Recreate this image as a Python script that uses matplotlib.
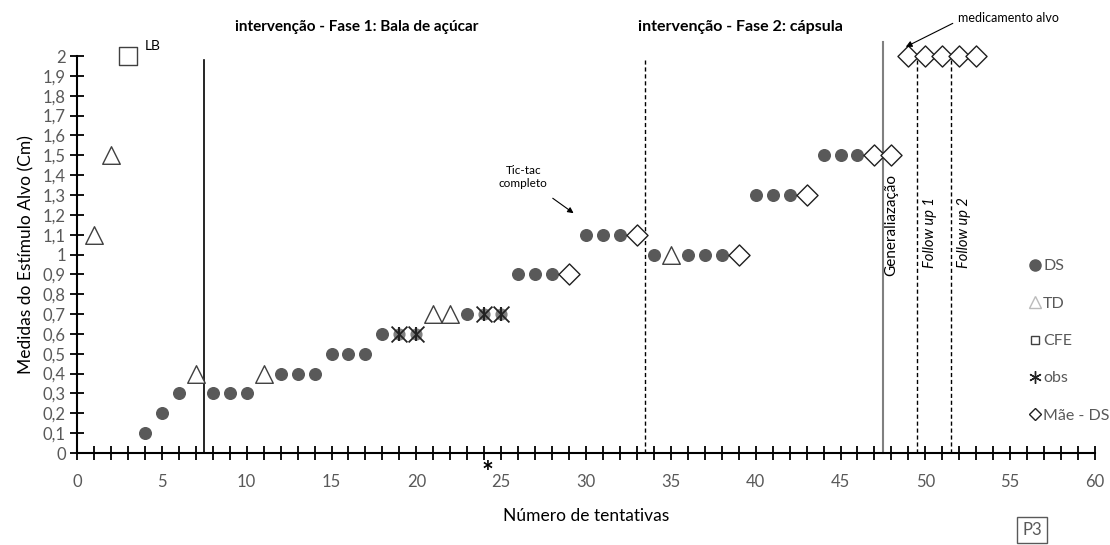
import numpy as np
import matplotlib.pyplot as plt
from matplotlib.ticker import MultipleLocator, FuncFormatter
from matplotlib.lines import Line2D

plt.rcParams['font.family'] = ['Lato', 'DejaVu Sans']

# dados
ds_x = [4, 5, 6, 8, 9, 10, 12, 13, 14, 15, 16, 17, 18, 23, 26, 27, 28,
        30, 31, 32, 34, 36, 37, 38, 40, 41, 42, 44, 45, 46]
ds_y = [0.1, 0.2, 0.3, 0.3, 0.3, 0.3, 0.4, 0.4, 0.4, 0.5, 0.5, 0.5, 0.6, 0.7,
        0.9, 0.9, 0.9, 1.1, 1.1, 1.1, 1.0, 1.0, 1.0, 1.0, 1.3, 1.3, 1.3,
        1.5, 1.5, 1.5]
td_x = [1, 2, 7, 11, 21, 22, 35]
td_y = [1.1, 1.5, 0.4, 0.4, 0.7, 0.7, 1.0]
cfe_x = [3]
cfe_y = [2.0]
obs_x = [19, 20, 24, 25]
obs_y = [0.6, 0.6, 0.7, 0.7]
mae_x = [29, 33, 39, 43, 47, 48, 49, 50, 51, 52, 53]
mae_y = [0.9, 1.1, 1.0, 1.3, 1.5, 1.5, 2.0, 2.0, 2.0, 2.0, 2.0]

fig = plt.figure(figsize=(11.1, 5.45), dpi=100)
ax = fig.add_axes([0.0694, 0.1688, 0.9171, 0.7284])

grey = '#595959'
ax.scatter(ds_x, ds_y, s=70, color=grey, zorder=3, clip_on=False)
ax.scatter(td_x, td_y, s=160, marker='^', facecolor='white', edgecolor='#404040',
           linewidth=1.0, zorder=3, clip_on=False)
ax.scatter(cfe_x, cfe_y, s=160, marker='s', facecolor='white', edgecolor='#404040',
           linewidth=1.0, zorder=3, clip_on=False)
ax.scatter(obs_x, obs_y, s=60, color='#7f7f7f', zorder=3)
ax.scatter(obs_x, obs_y, s=130, marker='x', color='#222222', linewidth=1.3, zorder=4)
ax.scatter(obs_x, obs_y, s=100, marker='|', color='#222222', linewidth=1.5, zorder=4)
ax.scatter(mae_x, mae_y, s=115, marker='D', facecolor='white', edgecolor='#202020',
           linewidth=1.0, zorder=3, clip_on=False)

# linhas de fase
ax.plot([7.5, 7.5], [0, 1.98], color='black', lw=1.2, clip_on=False)
ax.plot([33.5, 33.5], [0, 1.98], color='black', lw=1.0, ls=(0, (3, 2)), clip_on=False)
ax.plot([47.5, 47.5], [0, 2.07], color='#808080', lw=1.5, clip_on=False)
ax.plot([49.5, 49.5], [0, 1.98], color='black', lw=1.0, ls=(0, (3, 2)), clip_on=False)
ax.plot([51.5, 51.5], [0, 1.98], color='black', lw=1.0, ls=(0, (3, 2)), clip_on=False)

ax.set_xlim(0, 60)
ax.set_ylim(0, 2)
ax.xaxis.set_major_locator(MultipleLocator(5))
ax.xaxis.set_minor_locator(MultipleLocator(1))
ax.yaxis.set_major_locator(MultipleLocator(0.1))
ax.yaxis.set_major_formatter(FuncFormatter(lambda v, p: ('%g' % round(v, 1)).replace('.', ',')))
ax.tick_params(axis='both', which='both', direction='inout', length=10, width=1.3,
               colors='black', labelcolor=grey, labelsize=12)
ax.tick_params(axis='x', pad=10)
ax.tick_params(axis='y', pad=3)
for s in ['top', 'right']:
    ax.spines[s].set_visible(False)
for s in ['left', 'bottom']:
    ax.spines[s].set_linewidth(1.5)

ax.set_xlabel('Número de tentativas', fontsize=12.5, labelpad=13)
ax.set_ylabel('Medidas do Estímulo Alvo (Cm)', fontsize=12.5, labelpad=6)

# textos
fig.text(357 / 1110, 1 - 27 / 545, 'intervenção - Fase 1: Bala de açúcar', fontsize=11,
         fontweight='bold', ha='center', va='center')
fig.text(740 / 1110, 1 - 27 / 545, 'intervenção - Fase 2: cápsula', fontsize=11.5,
         fontweight='bold', ha='center', va='center')
ax.text(4.0, 2.02, 'LB', fontsize=10, va='bottom')
ax.annotate('Tic-tac\ncompleto', xy=(29.4, 1.2), xytext=(26.3, 1.39),
            fontsize=8.5, ha='center', va='center',
            arrowprops=dict(arrowstyle='-|>', color='black', lw=0.8, shrinkA=8))
ax.annotate('medicamento alvo', xy=(48.7, 2.04), xytext=(54.9, 2.19),
            fontsize=9, ha='center', va='center', annotation_clip=False,
            arrowprops=dict(arrowstyle='-|>', color='black', lw=0.8, shrinkA=2,
                            relpos=(0, 0.3)))
ax.text(48.0, 1.15, 'Generaliazação', rotation=90, fontsize=11, ha='center', va='center')
ax.text(50.3, 1.11, 'Follow up 1', rotation=90, fontsize=10.5, style='italic',
        ha='center', va='center')
ax.text(52.3, 1.11, 'Follow up 2', rotation=90, fontsize=10.5, style='italic',
        ha='center', va='center')
ax.text(24.2, -0.1, '*', fontsize=20, fontweight='bold', ha='center', va='center',
        clip_on=False)
fig.text(1032 / 1110, 1 - 530 / 545, 'P3', fontsize=12, color=grey, ha='center', va='center',
         bbox=dict(boxstyle='square,pad=0.3', facecolor='white', edgecolor=grey, lw=1.0))

# legenda
h_ds = Line2D([], [], ls='', marker='o', color=grey, markersize=8)
h_td = Line2D([], [], ls='', marker='^', markerfacecolor='white', markeredgecolor='#bbbbbb',
              markersize=9)
h_cfe = Line2D([], [], ls='', marker='s', markerfacecolor='white', markeredgecolor='#404040',
               markersize=6)
h_obs = Line2D([], [], ls='', marker=(6, 2, 0), color='#222222', markersize=9)
h_mae = Line2D([], [], ls='', marker='D', markerfacecolor='white', markeredgecolor='#202020',
               markersize=6.5)
ax.legend([h_ds, h_td, h_cfe, h_obs, h_mae], ['DS', 'TD', 'CFE', 'obs', 'Mãe - DS'],
          loc='upper left', bbox_to_anchor=(0.935, 0.488), frameon=False, fontsize=11.5,
          labelcolor=grey, handlelength=0.8, handletextpad=0.1, labelspacing=1.45,
          borderaxespad=0, borderpad=0)

fig.savefig('out.png', dpi=100)
